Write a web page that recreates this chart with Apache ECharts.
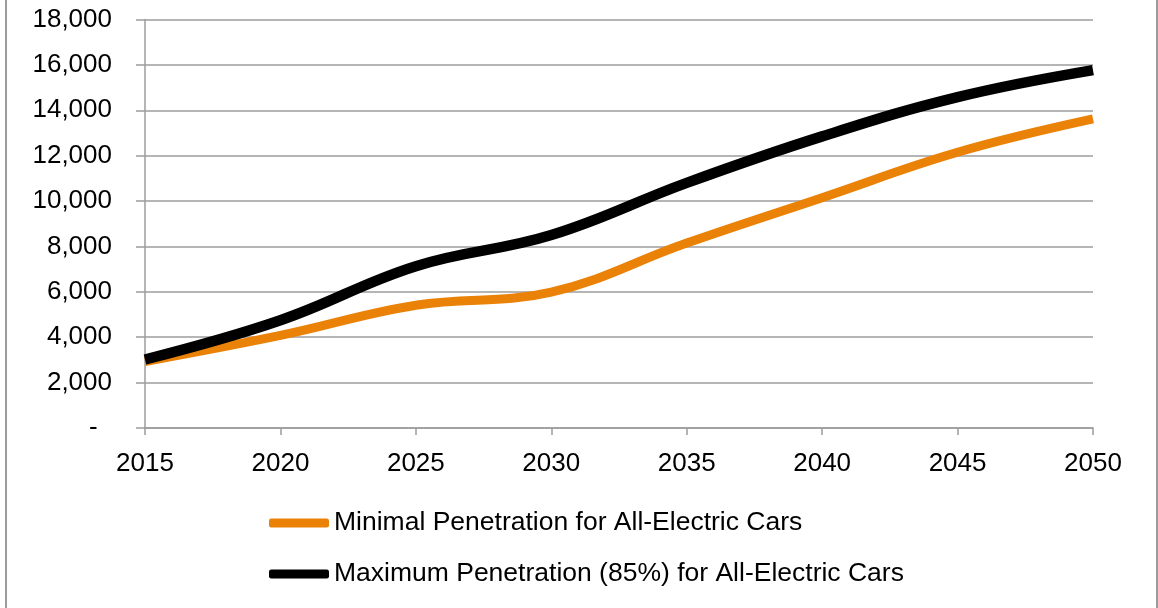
<!DOCTYPE html>
<html>
<head>
<meta charset="utf-8">
<script src="https://cdn.jsdelivr.net/npm/echarts@6/dist/echarts.min.js"></script>
<style>
html,body{margin:0;padding:0;background:#fff;}
#c{width:1158px;height:608px;}
</style>
</head>
<body>
<div id="c"></div>
<script>
const years = ['2015','2020','2025','2030','2035','2040','2045','2050'];
const minimalSeries = [2930, 4080, 5410, 5990, 8150, 10150, 12150, 13620];
const maximumSeries = [3020, 4750, 7130, 8500, 10800, 12850, 14580, 15770];
const seriesNames = ['Minimal Penetration for All-Electric Cars', 'Maximum Penetration (85%) for All-Electric Cars'];
const yTicks = { min: 0, max: 18000, interval: 2000 };

const FONT = "'Liberation Sans', Arial, sans-serif";
const GRAY = '#9c9c9c';
const chart = echarts.init(document.getElementById('c'));
chart.setOption({
  animation: false,
  backgroundColor: '#fff',
  grid: { left: 145, right: 65, top: 19.5, bottom: 180, containLabel: false },
  xAxis: {
    type: 'category',
    data: years,
    boundaryGap: false,
    axisLine: { show: true, lineStyle: { color: GRAY, width: 1.5 } },
    axisTick: { show: true, length: 7, lineStyle: { color: GRAY, width: 1.5 } },
    axisLabel: { color: '#000', fontFamily: FONT, fontSize: 26, margin: 23 },
    splitLine: { show: false }
  },
  yAxis: {
    type: 'value',
    min: yTicks.min, max: yTicks.max, interval: yTicks.interval,
    axisLine: { show: true, lineStyle: { color: GRAY, width: 1.5 } },
    axisTick: { show: true, length: 9, lineStyle: { color: GRAY, width: 1.5 } },
    axisLabel: {
      color: '#000', fontFamily: FONT, fontSize: 26, margin: 33,
      formatter: v => v === 0 ? '-  ' : v.toLocaleString('en-US')
    },
    splitLine: { show: true, lineStyle: { color: GRAY, width: 1.5 } }
  },
  legend: {
    orient: 'vertical',
    left: 264, top: 503,
    itemWidth: 60, itemHeight: 9, itemGap: 21,
    icon: 'roundRect',
    textStyle: { color: '#000', fontFamily: FONT, fontSize: 26.5, lineHeight: 30 },
    data: seriesNames
  },
  series: [
    {
      name: seriesNames[0], type: 'line', data: minimalSeries,
      smooth: 0.4, symbol: 'none',
      lineStyle: { color: '#ea8207', width: 9, cap: 'butt' },
      itemStyle: { color: '#ea8207' }
    },
    {
      name: seriesNames[1], type: 'line', data: maximumSeries,
      smooth: 0.4, symbol: 'none',
      lineStyle: { color: '#000', width: 10.5, cap: 'butt' },
      itemStyle: { color: '#000' }
    }
  ],
  graphic: [
    { type: 'line', shape: { x1: 6, y1: 0, x2: 6, y2: 608 }, style: { stroke: GRAY, lineWidth: 2 } },
    { type: 'line', shape: { x1: 1157, y1: 0, x2: 1157, y2: 608 }, style: { stroke: GRAY, lineWidth: 2 } }
  ]
});
</script>
</body>
</html>
